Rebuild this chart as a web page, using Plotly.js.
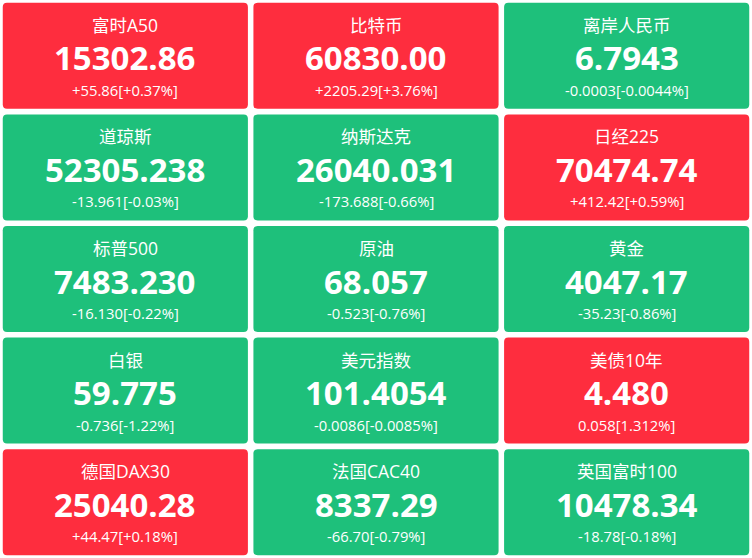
<!DOCTYPE html>
<html>
<head>
<meta charset="utf-8">
<script src="https://cdn.plot.ly/plotly-3.0.1.min.js"></script>
<style>
html,body{margin:0;padding:0;background:#fff;}
#chart{width:752px;height:558px;}
</style>
</head>
<body>
<div id="chart"></div>
<script>
// Data
var names = ["富时A50","比特币","离岸人民币","道琼斯","纳斯达克","日经225","标普500","原油","黄金","白银","美元指数","美债10年","德国DAX30","法国CAC40","英国富时100"];
var prices = ["15302.86","60830.00","6.7943","52305.238","26040.031","70474.74","7483.230","68.057","4047.17","59.775","101.4054","4.480","25040.28","8337.29","10478.34"];
var changes = ["+55.86","+2205.29","-0.0003","-13.961","-173.688","+412.42","-16.130","-0.523","-35.23","-0.736","-0.0086","0.058","+44.47","-66.70","-18.78"];
var percents = ["+0.37%","+3.76%","-0.0044%","-0.03%","-0.66%","+0.59%","-0.22%","-0.76%","-0.86%","-1.22%","-0.0085%","1.312%","+0.18%","-0.79%","-0.18%"];

var RED = "#fe2d3e", GREEN = "#1ec07b";
var COLS = 3, ROWS = 5;
var hx = 0.489, hy = 0.475, rx = 0.017, ry = 0.038;
var FONT = "'Open Sans', 'Noto Sans CJK SC', sans-serif";

var xs = [], ys = [], shapes = [], annotations = [];
for (var i = 0; i < names.length; i++) {
  var c = i % COLS, r = Math.floor(i / COLS);
  xs.push(c); ys.push(r);
  var up = parseFloat(changes[i]) > 0;
  var x0 = c - hx, x1 = c + hx, y0 = r - hy, y1 = r + hy;
  var path = "M " + (x0 + rx) + " " + y0 +
    " L " + (x1 - rx) + " " + y0 + " Q " + x1 + " " + y0 + " " + x1 + " " + (y0 + ry) +
    " L " + x1 + " " + (y1 - ry) + " Q " + x1 + " " + y1 + " " + (x1 - rx) + " " + y1 +
    " L " + (x0 + rx) + " " + y1 + " Q " + x0 + " " + y1 + " " + x0 + " " + (y1 - ry) +
    " L " + x0 + " " + (y0 + ry) + " Q " + x0 + " " + y0 + " " + (x0 + rx) + " " + y0 + " Z";
  shapes.push({type: "path", xref: "x", yref: "y", path: path,
    fillcolor: up ? RED : GREEN, line: {width: 0}, layer: "below"});
  annotations.push({x: c, y: r, xref: "x", yref: "y", text: names[i], showarrow: false, borderpad: 0,
    yshift: 31, yanchor: "middle", font: {family: FONT, size: 17.5, color: "#ffffff"}});
  annotations.push({x: c, y: r, xref: "x", yref: "y", text: prices[i], showarrow: false, borderpad: 0,
    yshift: -2, yanchor: "middle", font: {family: FONT, size: 33, color: "#ffffff", weight: 700}});
  annotations.push({x: c, y: r, xref: "x", yref: "y", text: changes[i] + "[" + percents[i] + "]", showarrow: false, borderpad: 0,
    yshift: -34, yanchor: "middle", font: {family: FONT, size: 14.8, color: "#ffffff"}});
}

var data = [{type: "scatter", mode: "markers", x: xs, y: ys,
  marker: {size: 1, opacity: 0}, hoverinfo: "skip", showlegend: false}];

var layout = {
  width: 752, height: 558,
  margin: {l: 0, r: 0, t: 0, b: 0},
  paper_bgcolor: "#ffffff", plot_bgcolor: "#ffffff",
  xaxis: {range: [-0.5, 2.5], visible: false, fixedrange: true},
  yaxis: {range: [4.5, -0.5], visible: false, fixedrange: true},
  shapes: shapes, annotations: annotations, showlegend: false
};

Plotly.newPlot("chart", data, layout, {staticPlot: true, displayModeBar: false});
</script>
</body>
</html>
